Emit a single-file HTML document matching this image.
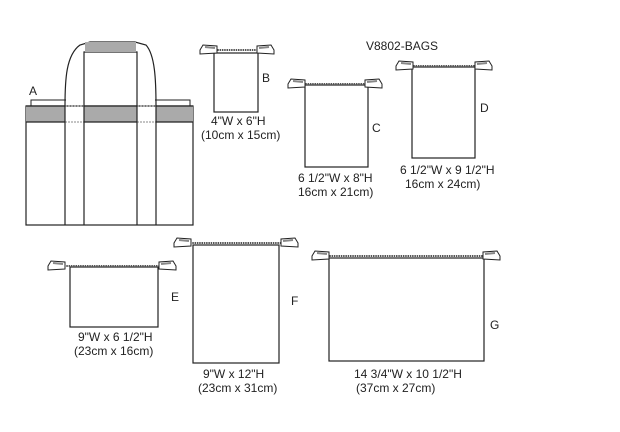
<!DOCTYPE html>
<html><head><style>
body{margin:0;background:#fff;width:620px;height:432px;overflow:hidden}
svg{display:block}
text{font-family:"Liberation Sans",sans-serif;font-size:12px;fill:#222}
</style></head><body>
<svg width="620" height="432" viewBox="0 0 620 432" xmlns="http://www.w3.org/2000/svg">
<defs>
<g id="tabL"><path d="M0,-4 L3,-9 L17,-8 L17,-1 L0,0 Z" fill="#fff" stroke="#222" stroke-width="1"/><path d="M5,-7 L15,-6" stroke="#888" stroke-width="2"/></g>
<g id="tabR"><path d="M0,-4 L-3,-9 L-17,-8 L-17,-1 L0,0 Z" fill="#fff" stroke="#222" stroke-width="1"/><path d="M-5,-7 L-15,-6" stroke="#888" stroke-width="2"/></g>
</defs>
<g fill="none" stroke="#222" stroke-width="1.2">
<path d="M31,106 L31,100 L66,100 M155,100 L190,100 L190,106" stroke-width="1"/>
<rect x="26" y="106" width="167" height="119" fill="#fff"/>
<rect x="26" y="106" width="39" height="16" fill="#aaa" stroke="none"/>
<rect x="84" y="106" width="53" height="16" fill="#aaa" stroke="none"/>
<rect x="156" y="106" width="37" height="16" fill="#aaa" stroke="none"/>
<path d="M26,106 L65,106 M26,122 L65,122 M156,106 L193,106 M156,122 L193,122 M84,106 L137,106 M84,122 L137,122"/>
<path d="M65,106 L84,106 M65,122 L84,122 M137,106 L156,106 M137,122 L156,122" stroke="#888" stroke-dasharray="2,1" stroke-width="1"/>
<path d="M65,225 L65,106 C65,80 66,55 80,45 L90,42 L135,42 L146,45 C155,55 156,80 156,106 L156,225"/>
<path d="M84,225 L84,52 L137,52 L137,225"/>
<rect x="85" y="42" width="51" height="10" fill="#aaa" stroke="none"/>
<rect x="214" y="53" width="44" height="59"/>
<rect x="305" y="85" width="63" height="82"/>
<rect x="412" y="67" width="63" height="91"/>
<rect x="70" y="267" width="88" height="60"/>
<rect x="193" y="245" width="86" height="118"/>
<rect x="329" y="258" width="155" height="103"/>
</g>
<g stroke="#555" stroke-width="2" stroke-dasharray="1.5,0.8">
<line x1="215" y1="50" x2="258" y2="50"/>
<line x1="303" y1="84" x2="367" y2="84"/>
<line x1="411" y1="66" x2="477" y2="66"/>
<line x1="64" y1="266" x2="160" y2="266"/>
<line x1="190" y1="243" x2="282" y2="243"/>
<line x1="327" y1="256" x2="486" y2="256"/>
</g>
<use href="#tabL" x="200" y="54"/><use href="#tabR" x="274" y="54"/>
<use href="#tabL" x="288" y="88"/><use href="#tabR" x="382" y="88"/>
<use href="#tabL" x="396" y="70"/><use href="#tabR" x="492" y="70"/>
<use href="#tabL" x="48" y="270"/><use href="#tabR" x="176" y="270"/>
<use href="#tabL" x="174" y="247"/><use href="#tabR" x="298" y="247"/>
<use href="#tabL" x="312" y="260"/><use href="#tabR" x="500" y="260"/>
<text x="366" y="50">V8802-BAGS</text>
<text x="29" y="95">A</text>
<text x="262" y="82">B</text>
<text x="372" y="132">C</text>
<text x="480" y="112">D</text>
<text x="171" y="301">E</text>
<text x="291" y="305">F</text>
<text x="490" y="329">G</text>
<text x="211" y="125">4"W x 6"H</text>
<text x="201" y="139">(10cm x 15cm)</text>
<text x="298" y="182">6 1/2"W x 8"H</text>
<text x="298" y="196">16cm x 21cm)</text>
<text x="400" y="174">6 1/2"W x 9 1/2"H</text>
<text x="405" y="188">16cm x 24cm)</text>
<text x="78" y="341">9"W x 6 1/2"H</text>
<text x="74" y="355">(23cm x 16cm)</text>
<text x="203" y="378">9"W x 12"H</text>
<text x="198" y="392">(23cm x 31cm)</text>
<text x="354" y="378">14 3/4"W x  10 1/2"H</text>
<text x="356" y="392">(37cm x  27cm)</text>
</svg>
</body></html>
